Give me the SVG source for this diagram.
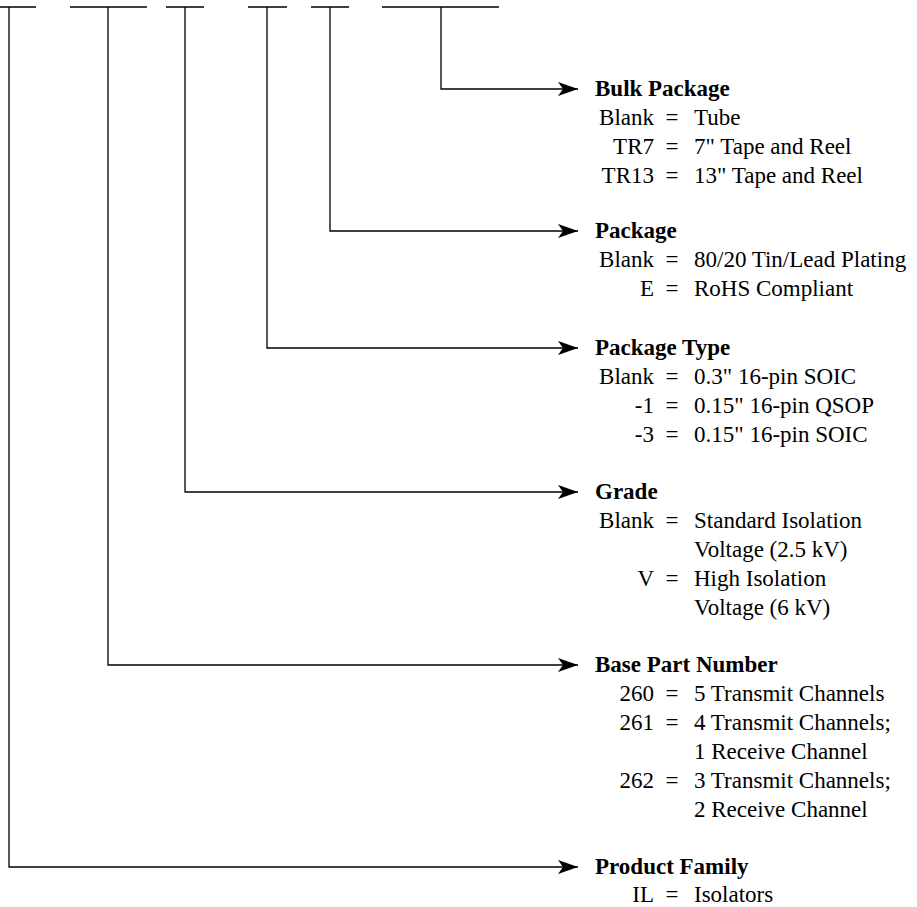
<svg xmlns="http://www.w3.org/2000/svg" width="917" height="907" viewBox="0 0 917 907">
<style>
text{font-family:"Liberation Serif","Times New Roman",serif;font-size:23px;fill:#000}
.h{font-weight:bold}
.k{text-anchor:end}
.e{text-anchor:middle}
.ln{stroke:#000;stroke-width:1.3;fill:none}
</style>
<defs>
<marker id="ah" viewBox="0 0 20 14" refX="20" refY="7" markerWidth="20" markerHeight="14" markerUnits="userSpaceOnUse" orient="auto">
<path d="M0,0 L20,7 L0,14 L5,7 Z" fill="#000"/>
</marker>
</defs>
<g id="field-bars" class="ln">
<path d="M0,7 H36 M70,7 H147 M166,7 H204 M248,7 H287 M311,7 H349 M382,7 H499"/>
</g>
<g id="connectors" class="ln">
<path d="M441,7 V89 H578" marker-end="url(#ah)"/>
<path d="M330,7 V231 H578" marker-end="url(#ah)"/>
<path d="M267,7 V348 H578" marker-end="url(#ah)"/>
<path d="M185,7 V492 H578" marker-end="url(#ah)"/>
<path d="M108,7 V665 H578" marker-end="url(#ah)"/>
<path d="M9,7 V867 H578" marker-end="url(#ah)"/>
</g>
<g id="bulk-package">
<text class="h" x="595" y="96">Bulk Package</text>
<text class="k" x="654" y="125">Blank</text><text class="e" x="672" y="125">=</text><text x="694" y="125">Tube</text>
<text class="k" x="654" y="154">TR7</text><text class="e" x="672" y="154">=</text><text x="694" y="154">7" Tape and Reel</text>
<text class="k" x="654" y="183">TR13</text><text class="e" x="672" y="183">=</text><text x="694" y="183">13" Tape and Reel</text>
</g>
<g id="package">
<text class="h" x="595" y="238">Package</text>
<text class="k" x="654" y="267">Blank</text><text class="e" x="672" y="267">=</text><text x="694" y="267">80/20 Tin/Lead Plating</text>
<text class="k" x="654" y="296">E</text><text class="e" x="672" y="296">=</text><text x="694" y="296">RoHS Compliant</text>
</g>
<g id="package-type">
<text class="h" x="595" y="355">Package Type</text>
<text class="k" x="654" y="384">Blank</text><text class="e" x="672" y="384">=</text><text x="694" y="384">0.3" 16-pin SOIC</text>
<text class="k" x="654" y="413">-1</text><text class="e" x="672" y="413">=</text><text x="694" y="413">0.15" 16-pin QSOP</text>
<text class="k" x="654" y="442">-3</text><text class="e" x="672" y="442">=</text><text x="694" y="442">0.15" 16-pin SOIC</text>
</g>
<g id="grade">
<text class="h" x="595" y="499">Grade</text>
<text class="k" x="654" y="528">Blank</text><text class="e" x="672" y="528">=</text><text x="694" y="528">Standard Isolation</text>
<text x="694" y="557">Voltage (2.5 kV)</text>
<text class="k" x="654" y="586">V</text><text class="e" x="672" y="586">=</text><text x="694" y="586">High Isolation</text>
<text x="694" y="615">Voltage (6 kV)</text>
</g>
<g id="base-part-number">
<text class="h" x="595" y="672">Base Part Number</text>
<text class="k" x="654" y="701">260</text><text class="e" x="672" y="701">=</text><text x="694" y="701">5 Transmit Channels</text>
<text class="k" x="654" y="730">261</text><text class="e" x="672" y="730">=</text><text x="694" y="730">4 Transmit Channels;</text>
<text x="694" y="759">1 Receive Channel</text>
<text class="k" x="654" y="788">262</text><text class="e" x="672" y="788">=</text><text x="694" y="788">3 Transmit Channels;</text>
<text x="694" y="817">2 Receive Channel</text>
</g>
<g id="product-family">
<text class="h" x="595" y="874">Product Family</text>
<text class="k" x="654" y="902">IL</text><text class="e" x="672" y="902">=</text><text x="694" y="902">Isolators</text>
</g>
</svg>
